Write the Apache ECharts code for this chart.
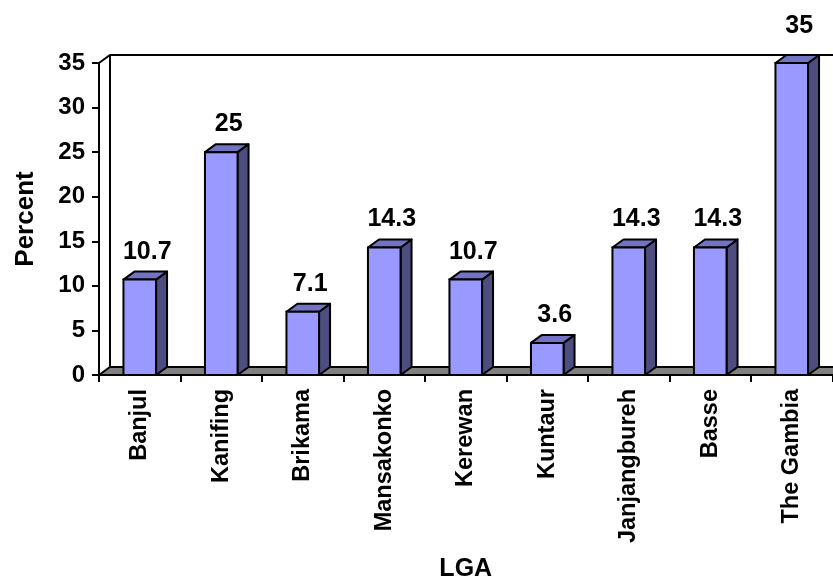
<!DOCTYPE html>
<html>
<head>
<meta charset="utf-8">
<script src="https://cdn.jsdelivr.net/npm/echarts@6/dist/echarts.min.js"></script>
<style>
  html, body { margin: 0; padding: 0; background: #ffffff; }
  #chart { width: 833px; height: 587px; }
</style>
</head>
<body>
<div id="chart"></div>
<script>
// Share of cases by Local Government Area (percent)
const categories = ['Banjul', 'Kanifing', 'Brikama', 'Mansakonko', 'Kerewan', 'Kuntaur', 'Janjangbureh', 'Basse', 'The Gambia'];
const percentValues = [10.7, 25, 7.1, 14.3, 10.7, 3.6, 14.3, 14.3, 35];
const yTicks = { min: 0, max: 35, interval: 5 };

const FONT = 'Arial, "Liberation Sans", sans-serif';
// 3D depth offset of the pseudo-perspective
const DX = 11, DY = -8;
const FACE = '#9999ff', TOP = '#7373c4', SIDE = '#4d4d80', EDGE = '#000000';

const chart = echarts.init(document.getElementById('chart'), null, { renderer: 'canvas' });

// back wall + floor, drawn from the grid's own bounds
function renderWalls(params, api) {
  const cs = params.coordSys;
  const x0 = cs.x, y0 = cs.y, x1 = cs.x + cs.width, yb = cs.y + cs.height;
  return {
    type: 'group',
    children: [
      { type: 'polygon', shape: { points: [[x0, yb], [x1 + DX, yb], [x1 + DX, yb + DY], [x0 + DX, yb + DY]] },
        style: { fill: '#808080', stroke: EDGE, lineWidth: 2 } },
      { type: 'polyline', shape: { points: [[x0, y0], [x0 + DX, y0 + DY], [x1 + DX + 20, y0 + DY]] },
        style: { fill: null, stroke: EDGE, lineWidth: 2 } },
      { type: 'line', shape: { x1: x0 + DX, y1: y0 + DY, x2: x0 + DX, y2: yb + DY },
        style: { stroke: EDGE, lineWidth: 2 } }
    ]
  };
}

function renderBar(params, api) {
  const idx = api.value(0);
  const val = api.value(1);
  const top = api.coord([idx, val]);
  const base = api.coord([idx, 0]);
  const w = api.size([1, 0])[0] * 0.4;
  const xl = top[0] - w / 2, xr = top[0] + w / 2;
  const yt = top[1], yb = base[1];
  // a value sitting on the top wall gets its label lifted a little more
  const lift = val >= yTicks.max ? 29 : 20;
  return {
    type: 'group',
    children: [
      { type: 'polygon', shape: { points: [[xr, yb], [xr + DX, yb + DY], [xr + DX, yt + DY], [xr, yt]] },
        style: { fill: SIDE, stroke: EDGE, lineWidth: 2, lineJoin: 'round' } },
      { type: 'polygon', shape: { points: [[xl, yt], [xl + DX, yt + DY], [xr + DX, yt + DY], [xr, yt]] },
        style: { fill: TOP, stroke: EDGE, lineWidth: 2, lineJoin: 'round' } },
      { type: 'rect', shape: { x: xl, y: yt, width: w, height: yb - yt },
        style: { fill: FACE, stroke: EDGE, lineWidth: 2 } },
      { type: 'text', x: top[0] + DX / 2 + 2, y: yt + DY - lift,
        style: { text: String(val), font: 'bold 25px ' + FONT, fill: '#000', align: 'center', verticalAlign: 'middle' } }
    ]
  };
}

chart.setOption({
  backgroundColor: '#ffffff',
  animation: false,
  grid: { left: 99, top: 63, width: 733.5, height: 316, containLabel: false },
  xAxis: {
    type: 'category',
    data: categories,
    name: 'LGA',
    nameLocation: 'middle',
    nameGap: 182,
    nameTextStyle: { fontFamily: FONT, fontWeight: 'bold', fontSize: 25, color: '#000' },
    boundaryGap: true,
    axisLine: { show: true, lineStyle: { color: '#000', width: 2 } },
    axisTick: { show: true, inside: false, length: 7, lineStyle: { color: '#000', width: 2 } },
    axisLabel: { rotate: 90, margin: 14, fontFamily: FONT, fontWeight: 'bold', fontSize: 23.5, color: '#000', interval: 0 },
    splitLine: { show: false }
  },
  yAxis: {
    type: 'value',
    min: yTicks.min, max: yTicks.max, interval: yTicks.interval,
    name: 'Percent',
    nameLocation: 'middle',
    nameGap: 60,
    nameTextStyle: { fontFamily: FONT, fontWeight: 'bold', fontSize: 26, color: '#000' },
    axisLine: { show: true, lineStyle: { color: '#000', width: 2 } },
    axisTick: { show: true, inside: false, length: 7, lineStyle: { color: '#000', width: 2 } },
    axisLabel: { margin: 14, fontFamily: FONT, fontWeight: 'bold', fontSize: 24, color: '#000' },
    splitLine: { show: false }
  },
  series: [
    { type: 'custom', name: 'walls', renderItem: renderWalls, data: [[0, 0]], z: 1, silent: true },
    { type: 'custom', name: 'Percent', renderItem: renderBar,
      data: percentValues.map((v, i) => [i, v]), z: 3,
      encode: { x: 0, y: 1 }, clip: false }
  ]
});
</script>
</body>
</html>
